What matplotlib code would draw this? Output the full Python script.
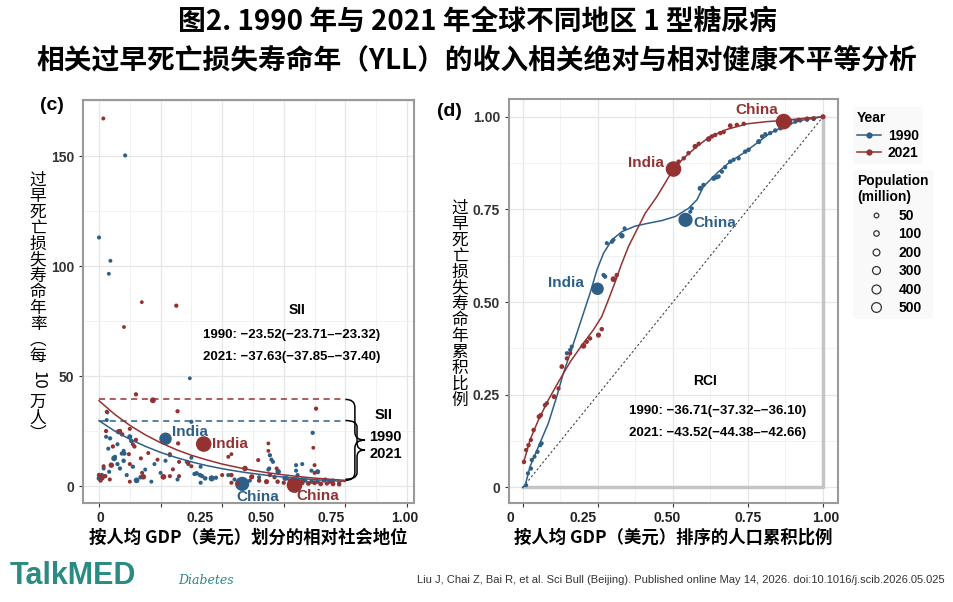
import numpy as np
import matplotlib
matplotlib.use('Agg')
import matplotlib.pyplot as plt
from matplotlib.path import Path
from matplotlib.patches import PathPatch
from matplotlib.lines import Line2D

plt.rcParams['font.family'] = ['Liberation Sans', 'Noto Sans CJK SC', 'DejaVu Sans']
plt.rcParams['axes.unicode_minus'] = True

BLUE = '#2d5f87'
RED = '#943232'
W, H = 954, 602

# ---- panel (c): relative rank vs YLL rate, (x, y, population in million) ----
sii_1990 = [
    (0.000, 113.0, 20), (0.085, 150.3, 20), (0.037, 102.4, 10), (0.032, 96.5, 10),
    (0.295, 49.0, 5), (0.027, 33.5, 20), (0.300, 29.2, 20), (0.694, 24.2, 30),
    (0.025, 30.0, 15), (0.023, 22.4, 20), (0.036, 21.7, 30), (0.100, 22.4, 80),
    (0.105, 20.5, 40), (0.030, 17.0, 20), (0.052, 13.3, 20), (0.049, 12.6, 120),
    (0.074, 14.8, 30), (0.082, 14.8, 40), (0.080, 11.5, 40), (0.080, 16.0, 20),
    (0.060, 10.0, 30), (0.068, 8.0, 30), (0.009, 5.0, 40), (0.011, 3.5, 30),
    (0.000, 3.5, 60), (0.033, 6.5, 20), (0.122, 2.6, 120), (0.135, 4.0, 40),
    (0.110, 8.8, 30), (0.230, 14.0, 20), (0.216, 11.5, 20), (0.285, 11.0, 20),
    (0.290, 10.0, 20), (0.300, 12.9, 20), (0.330, 8.8, 20), (0.317, 5.8, 40),
    (0.328, 5.0, 40), (0.335, 4.5, 30), (0.345, 3.5, 40), (0.330, 1.5, 20),
    (0.310, 5.5, 30), (0.366, 3.5, 150), (0.380, 3.8, 30), (0.170, 2.0, 15),
    (0.200, 6.0, 15), (0.420, 5.0, 20), (0.440, 3.0, 20), (0.490, 2.5, 20),
    (0.555, 14.0, 30), (0.560, 12.0, 20), (0.565, 11.0, 20), (0.582, 6.5, 100),
    (0.550, 7.5, 20), (0.553, 8.0, 20), (0.604, 3.5, 80), (0.640, 9.5, 20),
    (0.640, 7.0, 20), (0.645, 5.0, 20), (0.660, 10.0, 15), (0.690, 7.0, 20),
    (0.710, 6.5, 80), (0.610, 3.5, 30), (0.645, 3.0, 30), (0.670, 2.5, 30),
    (0.690, 2.0, 40), (0.710, 2.0, 30), (0.735, 3.0, 20), (0.760, 2.5, 20),
    (0.780, 1.5, 20), (0.520, 4.0, 20), (0.060, 19.0, 20), (0.015, 8.0, 20),
    (0.090, 5.0, 20), (0.150, 7.5, 15), (0.180, 10.0, 15), (0.255, 3.0, 20),
    (0.216, 21.5, 870), (0.465, 1.0, 1150),
]
sii_2021 = [
    (0.014, 167.1, 15), (0.139, 83.6, 5), (0.251, 82.0, 30), (0.081, 72.3, 8),
    (0.120, 41.7, 30), (0.175, 39.0, 130), (0.255, 34.0, 30), (0.705, 35.2, 30),
    (0.696, 17.4, 8), (0.025, 33.8, 10), (0.063, 24.7, 80), (0.068, 25.0, 40),
    (0.075, 23.5, 40), (0.023, 25.0, 30), (0.100, 26.0, 20), (0.120, 21.0, 30),
    (0.115, 18.0, 30), (0.110, 19.0, 20), (0.257, 19.4, 30), (0.230, 14.5, 20),
    (0.260, 11.0, 20), (0.290, 10.5, 20), (0.000, 5.0, 40), (0.010, 4.0, 30),
    (0.020, 4.5, 40), (0.040, 9.5, 100), (0.144, 4.2, 100), (0.209, 4.2, 120),
    (0.230, 4.5, 20), (0.240, 7.6, 20), (0.136, 12.6, 20), (0.097, 14.5, 20),
    (0.100, 10.0, 20), (0.140, 6.0, 20), (0.100, 2.0, 15), (0.300, 9.0, 20),
    (0.260, 4.5, 20), (0.015, 9.0, 20), (0.045, 18.0, 30), (0.550, 19.4, 8),
    (0.550, 16.0, 8), (0.420, 13.3, 15), (0.430, 14.5, 10), (0.517, 11.8, 20),
    (0.474, 8.0, 100), (0.577, 8.0, 20), (0.700, 9.5, 15), (0.700, 6.0, 15),
    (0.430, 5.0, 40), (0.496, 4.2, 80), (0.544, 2.0, 80), (0.520, 2.5, 40),
    (0.570, 4.0, 30), (0.580, 2.0, 40), (0.660, 1.5, 60), (0.680, 1.2, 60),
    (0.700, 1.5, 60), (0.720, 1.0, 60), (0.740, 1.2, 40), (0.760, 1.0, 60),
    (0.780, 0.8, 40), (0.430, 1.5, 20), (0.450, 1.0, 20), (0.600, 1.5, 30),
    (0.620, 2.5, 20), (0.660, 3.0, 20), (0.730, 2.5, 20), (0.750, 2.0, 30),
    (0.555, 5.0, 30), (0.400, 5.0, 20), (0.005, 2.5, 30), (0.035, 3.0, 20),
    (0.160, 15.0, 15), (0.190, 12.0, 15),
    (0.340, 19.1, 1400), (0.635, 0.45, 1420),
]
fit_x = [0, .05, .1, .15, .2, .25, .3, .35, .4, .45, .5, .55, .6, .65, .7, .75, .8]
fit_1990 = [29.7, 25.1, 21.3, 18.1, 15.3, 13.0, 11.0, 9.3, 7.9, 6.7, 5.7, 4.8, 4.1, 3.5, 2.9, 2.5, 2.1]
fit_2021 = [38.8, 32.7, 27.6, 23.3, 19.7, 16.6, 14.0, 11.9, 10.0, 8.5, 7.1, 6.0, 5.1, 4.3, 3.6, 3.1, 2.6]
top_1990, top_2021 = 29.8, 39.4

# ---- panel (d): concentration curves ----
curve_1990_x = [0, .008, .024, .052, .085, .113, .135, .158, .180, .202, .224, .247, .269,
                .297, .330, .374, .419, .463, .508, .552, .580, .602, .647, .691, .735,
                .780, .824, .869, .924, 1.0]
curve_1990_y = [0, .006, .056, .110, .173, .245, .308, .362, .416, .470, .524, .587, .632,
                .668, .690, .705, .713, .720, .731, .753, .776, .812, .848, .879, .902,
                .929, .956, .974, .990, 1.0]
curve_2021_x = [.002, .024, .052, .085, .119, .158, .197, .235, .263, .285, .308, .330, .352,
                .380, .408, .447, .502, .535, .580, .624, .680, .747, .813, .869, .936, 1.0]
curve_2021_y = [.065, .128, .182, .236, .285, .339, .384, .425, .461, .506, .555, .605, .650,
                .695, .740, .785, .859, .888, .920, .947, .966, .981, .987, .990, .996, 1.0]
rci_1990 = [
    (.011, .006, 20), (.017, .038, 20), (.027, .051, 30), (.030, .074, 30), (.039, .083, 20),
    (.049, .096, 30), (.058, .114, 30), (.063, .119, 20), (.147, .362, 30), (.158, .371, 30),
    (.163, .380, 20), (.269, .573, 30), (.274, .569, 40), (.280, .659, 20), (.297, .663, 30),
    (.302, .668, 20), (.330, .679, 100), (.339, .699, 20), (.558, .744, 20), (.563, .753, 20),
    (.591, .807, 80), (.602, .816, 40), (.636, .834, 80), (.647, .837, 40), (.652, .839, 40),
    (.663, .852, 30), (.674, .864, 30), (.691, .879, 40), (.702, .884, 30), (.719, .888, 30),
    (.741, .906, 40), (.752, .911, 40), (.786, .933, 80), (.797, .947, 30), (.808, .953, 30),
    (.824, .956, 30), (.841, .963, 40), (.858, .969, 40), (.874, .974, 40), (.891, .983, 30),
    (.908, .987, 30), (.924, .990, 30), (.947, .992, 30), (.969, .994, 30),
    (.249, .536, 870), (.542, .722, 1150),
]
rci_2021 = [
    (.004, .069, 40), (.011, .101, 30), (.019, .114, 40), (.027, .128, 30), (.036, .155, 40),
    (.054, .191, 60), (.060, .195, 40), (.074, .222, 40), (.080, .227, 30), (.104, .245, 60),
    (.119, .267, 30), (.130, .326, 60), (.147, .348, 40), (.158, .362, 30), (.202, .382, 120),
    (.213, .393, 40), (.224, .402, 40), (.252, .411, 80), (.263, .427, 40), (.302, .562, 120),
    (.313, .573, 40), (.519, .879, 40), (.536, .888, 40), (.552, .902, 40), (.574, .920, 80),
    (.586, .927, 40), (.619, .940, 100), (.630, .947, 40), (.641, .951, 40), (.658, .956, 40),
    (.669, .959, 40), (.691, .976, 60), (.713, .978, 40), (.736, .981, 40), (.891, .990, 40),
    (.919, .992, 40), (.947, .995, 40), (.969, .996, 40), (1.0, 1.0, 80),
    (.502, .859, 1400), (.869, .987, 1420),
]
legend_pops = [50, 100, 200, 300, 400, 500]


def size_of(pop):
    return 7 + np.asarray(pop) * 0.085


def px_box(left, top, right, bottom):
    return [left / W, 1 - bottom / H, (right - left) / W, (bottom - top) / H]


def style_axes(ax):
    ax.set_facecolor('white')
    for s in ax.spines.values():
        s.set_color('#9a9a9a')
        s.set_linewidth(1.5)
    ax.grid(True, which='major', color='#e6e6e6', lw=0.9)
    ax.grid(True, which='minor', color='#f0f0f0', lw=0.6)
    ax.set_axisbelow(True)
    ax.tick_params(which='both', labelsize=10, colors='#333333', length=3)
    ax.tick_params(which='minor', length=0)
    for lab in ax.get_yticklabels():
        lab.set_fontweight('bold')


def bottom_labels(ax, positions, labels):
    sec = ax.secondary_xaxis('bottom')
    sec.set_xticks(positions, labels=labels)
    sec.tick_params(length=0, pad=6, labelsize=10, colors='#222222')
    sec.spines['bottom'].set_visible(False)
    for lab in sec.get_xticklabels():
        lab.set_fontweight('bold')
    ax.set_xticklabels([])


def brace(ax, x0, y_top, y_bot, y_tip, xm, xt, r):
    verts = [(x0, y_top), (xm, y_top), (xm, y_top - r), (xm, y_tip + r),
             (xm, y_tip), (xt, y_tip), (xm, y_tip), (xm, y_tip - r),
             (xm, y_bot + r), (xm, y_bot), (x0, y_bot)]
    codes = [Path.MOVETO, Path.CURVE3, Path.CURVE3, Path.LINETO,
             Path.CURVE3, Path.CURVE3, Path.CURVE3, Path.CURVE3,
             Path.LINETO, Path.CURVE3, Path.CURVE3]
    ax.add_patch(PathPatch(Path(verts, codes), fc='none', ec='black', lw=1.1, clip_on=False))


def vertical_label(x_px, y_px_list, tokens, size=12):
    for tok, y in zip(tokens, y_px_list):
        rot = -90 if tok.isdigit() else 0
        plt.gcf().text(x_px / W, 1 - y / H, tok, ha='center', va='center', rotation=rot,
                       fontsize=size, family=['Noto Sans CJK SC', 'DejaVu Sans'], color='black')


fig = plt.figure(figsize=(9.54, 6.02), dpi=100)
fig.patch.set_facecolor('white')

# ---------------- panel (c) ----------------
axc = fig.add_axes(px_box(83, 100, 414, 503))
for data, col in ((sii_1990, BLUE), (sii_2021, RED)):
    arr = np.array(data)
    axc.scatter(arr[:, 0], arr[:, 1], s=size_of(arr[:, 2]), color=col, lw=0, zorder=3)
axc.plot(fit_x, fit_1990, color=BLUE, lw=1.1, zorder=4)
axc.plot(fit_x, fit_2021, color=RED, lw=1.1, zorder=4)
axc.plot([0, 0.8], [top_2021, top_2021], color=RED, lw=1.1, ls=(0, (4, 3)), zorder=2)
axc.plot([0, 0.8], [top_1990, top_1990], color=BLUE, lw=1.1, ls=(0, (4, 3)), zorder=2)
brace(axc, 0.80, top_2021, fit_2021[-1], 20.9, 0.831, 0.864, 3.6)
brace(axc, 0.80, top_1990, fit_1990[-1] + 1.0, 16.4, 0.838, 0.864, 3.0)
axc.text(0.925, 32.3, 'SII', ha='center', va='center', fontsize=10.5, fontweight='bold')
axc.text(0.93, 22.3, '1990', ha='center', va='center', fontsize=10.5, fontweight='bold')
axc.text(0.93, 14.5, '2021', ha='center', va='center', fontsize=10.5, fontweight='bold')

axc.text(0.642, 80, 'SII', ha='center', va='center', fontsize=10, fontweight='bold')
axc.text(0.626, 68.6, '1990: \u221223.52(\u221223.71\u2013\u221223.32)', ha='center', va='center',
         fontsize=9.5, fontweight='bold')
axc.text(0.626, 58.8, '2021: \u221237.63(\u221237.85\u2013\u221237.40)', ha='center', va='center',
         fontsize=9.5, fontweight='bold')
axc.text(0.295, 24.5, 'India', color=BLUE, ha='center', va='center', fontsize=11, fontweight='bold')
axc.text(0.425, 19.1, 'India', color=RED, ha='center', va='center', fontsize=11, fontweight='bold')
axc.text(0.514, -4.8, 'China', color=BLUE, ha='center', va='center', fontsize=11, fontweight='bold')
axc.text(0.712, -4.5, 'China', color=RED, ha='center', va='center', fontsize=11, fontweight='bold')

axc.set_xlim(-0.052, 1.023)
axc.set_ylim(-7.7, 175.5)
axc.set_xticks(np.arange(0, 1.01, 0.2))
axc.set_xticks(np.arange(0.1, 1.0, 0.2), minor=True)
axc.set_yticks([0, 50, 100, 150], labels=['0', '50', '100', '150'])
axc.set_yticks([25, 75, 125, 175], minor=True)
style_axes(axc)
bottom_labels(axc, [0.003, 0.328, 0.526, 0.755, 0.994], ['0', '0.25', '0.50', '0.75', '1.00'])
axc.set_xlabel('按人均 GDP（美元）划分的相对社会地位', fontsize=12.5, fontweight='bold',
               family=['Noto Sans CJK SC', 'DejaVu Sans'], labelpad=12)

# ---------------- panel (d) ----------------
axd = fig.add_axes(px_box(509, 99, 838, 503))
axd.plot([0, 1, 1], [0, 0, 1], color='#c4c4c4', lw=2.5, zorder=1)
axd.plot([0, 1], [0, 1], color='#444444', lw=0.8, ls=(0, (2, 2)), zorder=2)
axd.plot(curve_1990_x, curve_1990_y, color=BLUE, lw=1.1, zorder=3)
axd.plot(curve_2021_x, curve_2021_y, color=RED, lw=1.1, zorder=3)
for data, col in ((rci_1990, BLUE), (rci_2021, RED)):
    arr = np.array(data)
    axd.scatter(arr[:, 0], arr[:, 1], s=size_of(arr[:, 2]), color=col, lw=0, zorder=4)

axd.text(0.78, 1.017, 'China', color=RED, ha='center', va='center', fontsize=11, fontweight='bold')
axd.text(0.411, 0.876, 'India', color=RED, ha='center', va='center', fontsize=11, fontweight='bold')
axd.text(0.638, 0.713, 'China', color=BLUE, ha='center', va='center', fontsize=11, fontweight='bold')
axd.text(0.144, 0.552, 'India', color=BLUE, ha='center', va='center', fontsize=11, fontweight='bold')
axd.text(0.606, 0.288, 'RCI', ha='center', va='center', fontsize=10, fontweight='bold')
axd.text(0.649, 0.207, '1990: \u221236.71(\u221237.32\u2013\u221236.10)', ha='center', va='center',
         fontsize=9.5, fontweight='bold')
axd.text(0.649, 0.148, '2021: \u221243.52(\u221244.38\u2013\u221242.66)', ha='center', va='center',
         fontsize=9.5, fontweight='bold')

axd.set_xlim(-0.046, 1.05)
axd.set_ylim(-0.042, 1.048)
axd.set_xticks([0, 0.25, 0.5, 0.75, 1.0])
axd.set_xticks([0.125, 0.375, 0.625, 0.875], minor=True)
axd.set_yticks([0, 0.25, 0.5, 0.75, 1.0], labels=['0', '0.25', '0.50', '0.75', '1.00'])
axd.set_yticks([0.125, 0.375, 0.625, 0.875], minor=True)
style_axes(axd)
bottom_labels(axd, [-0.04, 0.2, 0.48, 0.75, 1.01], ['0', '0.25', '0.50', '0.75', '1.00'])
axd.set_xlabel('按人均 GDP（美元）排序的人口累积比例', fontsize=12.5, fontweight='bold',
               family=['Noto Sans CJK SC', 'DejaVu Sans'], labelpad=12)

# legends
year_handles = [Line2D([0], [0], color=BLUE, lw=1.1, marker='o', ms=3.5),
                Line2D([0], [0], color=RED, lw=1.1, marker='o', ms=3.5)]
leg1 = fig.legend(year_handles, ['1990', '2021'], title='Year', loc='upper left',
                  bbox_to_anchor=(846 / W, 1 - 100 / H), prop={'weight': 'bold', 'size': 10},
                  title_fontproperties={'weight': 'bold', 'size': 10}, alignment='left',
                  handlelength=1.7, handletextpad=0.5, labelspacing=0.25, borderpad=0.3)
pop_handles = [Line2D([0], [0], ls='none', marker='o', ms=float(np.sqrt(size_of(p))),
                      mfc='none', mec='#333333', mew=0.9) for p in legend_pops]
leg2 = fig.legend(pop_handles, [str(p) for p in legend_pops], title='Population\n(million)',
                  loc='upper left', bbox_to_anchor=(846 / W, 1 - 163 / H),
                  prop={'weight': 'bold', 'size': 10},
                  title_fontproperties={'weight': 'bold', 'size': 10}, alignment='center',
                  handlelength=1.7, handletextpad=0.8, labelspacing=0.32, borderpad=0.3)
for leg in (leg1, leg2):
    leg.get_frame().set_facecolor('#f8f8f8')
    leg.get_frame().set_edgecolor('none')

# vertical (stacked) y-axis labels
tok_c = list('过早死亡损失寿命年率') + ['\ufe35', '每', '10', '万', '人', '\ufe36']
ys_c = [180 + 16 * i for i in range(12)] + [380, 402, 418, 434]
vertical_label(38, ys_c, tok_c)
tok_d = list('过早死亡损失寿命年累积比例')
vertical_label(460, [208 + 16 * i for i in range(len(tok_d))], tok_d)

# panel tags, title, footer
fig.text(52 / W, 1 - 106 / H, '(c)', fontsize=14, fontweight='bold', ha='center', va='center')
fig.text(449 / W, 1 - 112 / H, '(d)', fontsize=14, fontweight='bold', ha='center', va='center')
fig.text(0.5, 1 - 22 / H, '图2. 1990 年与 2021 年全球不同地区 1 型糖尿病', ha='center', va='center',
         fontsize=20, fontweight='bold', family=['Noto Sans CJK SC', 'DejaVu Sans'])
fig.text(0.5, 1 - 60 / H, '相关过早死亡损失寿命年（YLL）的收入相关绝对与相对健康不平等分析', ha='center',
         va='center', fontsize=20, fontweight='bold', family=['Noto Sans CJK SC', 'DejaVu Sans'])
fig.text(10 / W, 1 - 576 / H, 'TalkMED', color='#2b8a82', fontsize=22, fontweight='bold',
         ha='left', va='center', family=['Liberation Sans Narrow', 'Liberation Sans'])
fig.text(178 / W, 1 - 580 / H, 'Diabetes', color='#2b8a82', fontsize=9, style='italic',
         ha='left', va='center', family=['DejaVu Serif'])
fig.text(945 / W, 1 - 580 / H,
         'Liu J, Chai Z, Bai R, et al. Sci Bull (Beijing). Published online May 14, 2026. '
         'doi:10.1016/j.scib.2026.05.025', color='#333333', fontsize=8, ha='right', va='center',
         family=['Liberation Sans Narrow', 'Liberation Sans'])

fig.savefig('out.png', dpi=100)
